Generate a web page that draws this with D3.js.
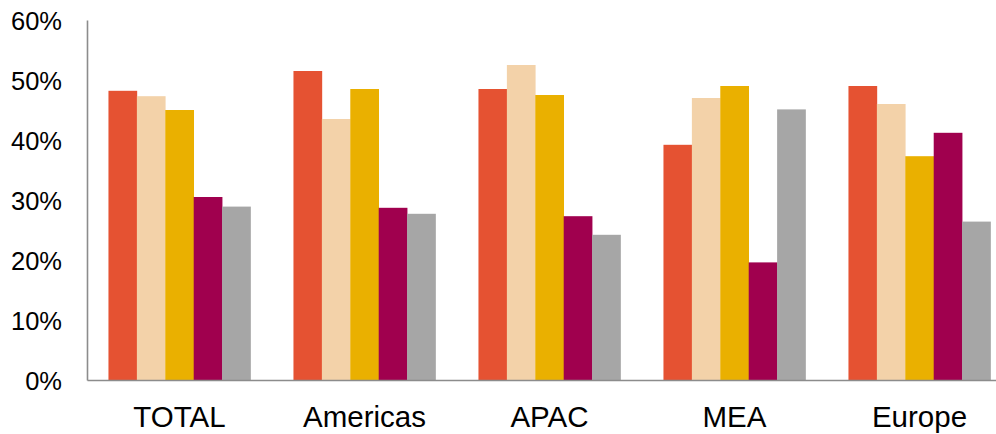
<!DOCTYPE html>
<html>
<head>
<meta charset="utf-8">
<script src="https://cdn.jsdelivr.net/npm/d3@7"></script>
<style>
  html, body { margin: 0; padding: 0; background: #fff; }
  svg { display: block; }
  text { font-family: "Liberation Sans", Arial, sans-serif; fill: #000; }
</style>
</head>
<body>
<svg id="chart" width="996" height="434"></svg>
<script>
// Regions along the x axis
const categories = ["TOTAL", "Americas", "APAC", "MEA", "Europe"];
// Five series, one value per region (percent)
const series1 = [48.2, 51.5, 48.5, 39.2, 49.0];
const series2 = [47.3, 43.5, 52.5, 47.0, 46.0];
const series3 = [45.0, 48.5, 47.5, 49.0, 37.3];
const series4 = [30.5, 28.7, 27.3, 19.6, 41.2];
const series5 = [28.9, 27.7, 24.2, 45.1, 26.4];
const seriesList = [series1, series2, series3, series4, series5];
const seriesColors = ["#E55232", "#F3D2A9", "#EAB000", "#A0004E", "#A6A6A6"];
// Y axis ticks (percent)
const yTicks = [0, 10, 20, 30, 40, 50, 60];

const svg = d3.select("#chart");
const plotLeft = 87, plotTop = 20, plotBottom = 380;
const plotRight = 1012; // plot area runs past the right edge of the canvas

const x = d3.scaleBand().domain(categories).range([plotLeft, plotRight]).paddingInner(0.232).paddingOuter(0.116);
const xs = d3.scaleBand().domain(d3.range(seriesList.length)).range([0, x.bandwidth()]);
const y = d3.scaleLinear().domain([0, 60]).range([plotBottom, plotTop]);

// Bars
const rows = categories.flatMap((c, ci) => seriesList.map((s, si) => ({ c, si, v: s[ci] })));
svg.append("g").selectAll("rect").data(rows).join("rect")
  .attr("x", d => x(d.c) + xs(d.si))
  .attr("y", d => y(d.v))
  .attr("width", xs.bandwidth() + 0.3)
  .attr("height", d => y(0) - y(d.v))
  .attr("fill", d => seriesColors[d.si]);

// Y axis
const yAxis = svg.append("g").attr("transform", `translate(${plotLeft},0)`)
  .call(d3.axisLeft(y).tickValues(yTicks).tickFormat(d => d + "%").tickSize(0).tickPadding(25));
yAxis.select(".domain").attr("stroke", "#8C8C8C").attr("stroke-width", 1.6);
yAxis.selectAll("text").style("font-size", "25.5px").attr("dy", "0.36em");

// X axis
const xAxis = svg.append("g").attr("transform", `translate(0,${plotBottom})`)
  .call(d3.axisBottom(x).tickSize(0).tickPadding(26));
xAxis.select(".domain").attr("stroke", "#8C8C8C").attr("stroke-width", 1.6);
xAxis.selectAll("text").style("font-size", "29.5px");
</script>
</body>
</html>
